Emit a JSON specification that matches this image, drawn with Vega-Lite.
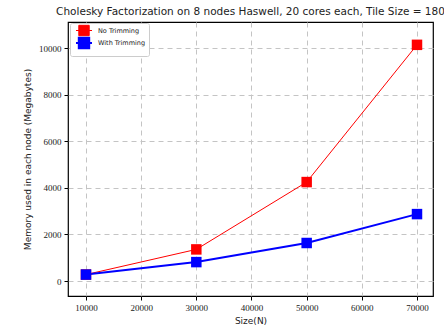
{
  "$schema": "https://vega.github.io/schema/vega-lite/v6.json",
  "width": 365,
  "height": 274,
  "autosize": {"type": "none"},
  "padding": {"left": 68, "top": 22, "right": 11, "bottom": 39},
  "background": "white",
  "title": {"text": "Cholesky Factorization on 8 nodes Haswell, 20 cores each, Tile Size = 180", "font": "DejaVu Sans", "fontSize": 10.5, "fontWeight": "normal", "color": "#222", "offset": 5, "anchor": "middle"},
  "config": {
    "view": {"stroke": "black", "strokeWidth": 1.2},
    "axis": {"gridDash": [5, 4], "gridColor": "#c4c4c4", "gridWidth": 1, "domain": false, "tickColor": "black", "tickSize": 4, "labelFont": "Liberation Serif", "labelFontSize": 9, "labelColor": "#222", "titleFont": "DejaVu Sans", "titleFontSize": 9, "titleFontWeight": "normal", "titleColor": "#222"}
  },
  "data": {"values": [
    {"N": 10000, "mem": 280, "series": "No Trimming"},
    {"N": 30000, "mem": 1360, "series": "No Trimming"},
    {"N": 50000, "mem": 4250, "series": "No Trimming"},
    {"N": 70000, "mem": 10140, "series": "No Trimming"},
    {"N": 10000, "mem": 280, "series": "With Trimming"},
    {"N": 30000, "mem": 815, "series": "With Trimming"},
    {"N": 50000, "mem": 1635, "series": "With Trimming"},
    {"N": 70000, "mem": 2875, "series": "With Trimming"}
  ]},
  "encoding": {
    "x": {"field": "N", "type": "quantitative", "scale": {"domain": [6740, 72900], "nice": false, "zero": false}, "axis": {"values": [10000, 20000, 30000, 40000, 50000, 60000, 70000], "format": "d", "title": "Size(N)", "titlePadding": 4, "labelPadding": 3}},
    "y": {"field": "mem", "type": "quantitative", "scale": {"domain": [-640, 11120], "nice": false, "zero": false}, "axis": {"values": [0, 2000, 4000, 6000, 8000, 10000], "format": "d", "title": "Memory used in each node (Megabytes)", "titlePadding": 6, "labelPadding": 3}},
    "color": {"field": "series", "type": "nominal", "scale": {"domain": ["No Trimming", "With Trimming"], "range": ["#ff0000", "#0000ff"]},
      "legend": {"title": null, "orient": "none", "legendX": 2, "legendY": 1, "symbolType": "M-2,0H2M-1.3,-1.3H1.3V1.3H-1.3Z", "symbolSize": 64, "symbolStrokeWidth": 1.2, "labelFont": "DejaVu Sans", "labelFontSize": 6.5, "labelColor": "#222", "rowPadding": -9, "padding": 3, "strokeColor": "#cccccc", "fillColor": "white", "cornerRadius": 2, "symbolOffset": 6, "labelOffset": 9}}
  },
  "layer": [
    {"mark": {"type": "line"}, "encoding": {"strokeWidth": {"field": "series", "type": "nominal", "scale": {"domain": ["No Trimming", "With Trimming"], "range": [1, 2]}, "legend": null}}},
    {"mark": {"type": "square", "size": 110, "opacity": 1, "filled": true}}
  ]
}
